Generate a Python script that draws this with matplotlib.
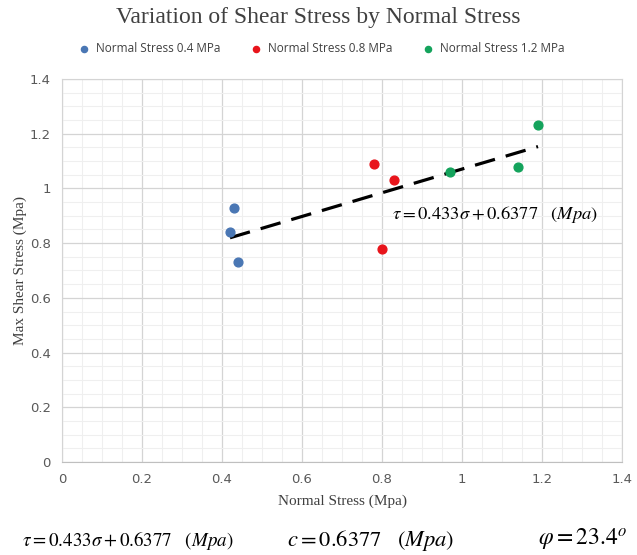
import numpy as np
import matplotlib
matplotlib.use('Agg')
import matplotlib.pyplot as plt
from matplotlib.ticker import MultipleLocator

plt.rcParams['mathtext.fontset'] = 'stix'

# data
x_04 = [0.43, 0.42, 0.44]
y_04 = [0.93, 0.84, 0.73]
x_08 = [0.78, 0.83, 0.80]
y_08 = [1.09, 1.03, 0.78]
x_12 = [0.97, 1.14, 1.19]
y_12 = [1.06, 1.08, 1.23]
slope = 0.433
intercept = 0.6377
series_labels = ['Normal Stress 0.4 MPa', 'Normal Stress 0.8 MPa', 'Normal Stress 1.2 MPa']
colors = ['#4A77B4', '#E8141B', '#14A35C']
tick_vals = [0, 0.2, 0.4, 0.6, 0.8, 1.0, 1.2, 1.4]
tick_text = ['0', '0.2', '0.4', '0.6', '0.8', '1', '1.2', '1.4']

fig = plt.figure(figsize=(6.37, 5.55), dpi=100)
ax = fig.add_axes([0.0973, 0.1676, 0.8792, 0.6901])

ax.scatter(x_04, y_04, s=40, color=colors[0], label=series_labels[0], zorder=3)
ax.scatter(x_08, y_08, s=40, color=colors[1], label=series_labels[1], zorder=3)
ax.scatter(x_12, y_12, s=40, color=colors[2], label=series_labels[2], zorder=3)

all_x = x_04 + x_08 + x_12
xs = np.array([min(all_x), max(all_x)])
ax.plot(xs, slope * xs + intercept, color='black', lw=2.3, ls=(0, (6.5, 3.5)), zorder=2)

ax.text(0.825, 0.905, r'$\tau = 0.433\sigma + 0.6377\ \ \ (Mpa)$', fontsize=13.3, va='center')

ax.set_xlim(0, 1.4)
ax.set_ylim(0, 1.4)
ax.xaxis.set_minor_locator(MultipleLocator(0.05))
ax.yaxis.set_minor_locator(MultipleLocator(0.05))
ax.set_xticks(tick_vals)
ax.set_xticklabels(tick_text)
ax.set_yticks(tick_vals)
ax.set_yticklabels(tick_text)
ax.grid(which='major', color='#d4d4d4', lw=0.9)
ax.grid(which='minor', color='#efefef', lw=0.8)
ax.set_axisbelow(True)
ax.tick_params(which='both', length=0, colors='#595959', labelsize=9.5, pad=8)
for side in ax.spines.values():
    side.set_color('#d4d4d4')
ax.spines['bottom'].set_color('#bfbfbf')

ax.set_xlabel('Normal Stress (Mpa)', family='Liberation Serif', fontsize=11, color='#404040', labelpad=6)
ax.set_ylabel('Max Shear Stress (Mpa)', family='Liberation Serif', fontsize=11, color='#404040', labelpad=2)

fig.text(0.5, 0.968, 'Variation of Shear Stress by Normal Stress', family='Liberation Serif',
         fontsize=17, color='#404040', ha='center', va='center')
fig.legend(loc='center', bbox_to_anchor=(0.5, 0.913), ncol=3, frameon=False,
           prop={'family': 'Open Sans', 'size': 8.5}, handletextpad=0.0, columnspacing=2.0,
           markerscale=0.7, labelcolor='#404040')

fig.text(0.035, 0.027, r'$\tau = 0.433\sigma + 0.6377\ \ \ (Mpa)$', fontsize=13.7, va='center')
fig.text(0.45, 0.027, r'$c = 0.6377\ \ \ (Mpa)$', fontsize=16.2, va='center')
fig.text(0.845, 0.027, r'$\varphi = 23.4^{o}$', fontsize=17, va='center')

fig.savefig('out.png', dpi=100)
